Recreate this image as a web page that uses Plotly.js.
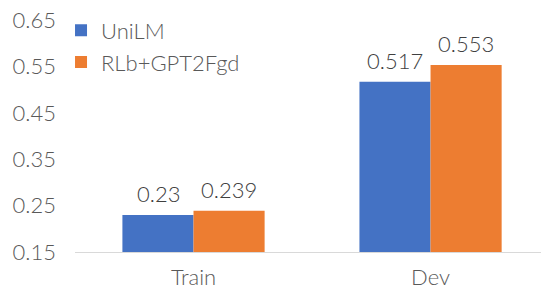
<!DOCTYPE html>
<html>
<head>
<meta charset="utf-8">
<script src="https://cdn.plot.ly/plotly-3.0.1.min.js"></script>
<style>html,body{margin:0;padding:0;background:#fff;}#chart{width:541px;height:290px;}</style>
</head>
<body>
<div id="chart"></div>
<script>
const categories = ["Train", "Dev"];
const seriesNames = ["UniLM", "RLb+GPT2Fgd"];
const unilmValues = [0.23, 0.517];
const rlbValues = [0.239, 0.553];
const unilmLabels = ["0.23", "0.517"];
const rlbLabels = ["0.239", "0.553"];
const yTicks = [0.15, 0.25, 0.35, 0.45, 0.55, 0.65];

const FONT = "Lato, 'Noto Sans', sans-serif";
const FS = 22;
const traces = [
  {type: "bar", name: seriesNames[0], x: categories, y: unilmValues,
   marker: {color: "#4472C4", line: {width: 0}}},
  {type: "bar", name: seriesNames[1], x: categories, y: rlbValues,
   marker: {color: "#ED7D31", line: {width: 0}}}
];
const annotations = [];
categories.forEach((c, i) => {
  annotations.push({x: c, y: unilmValues[i], text: unilmLabels[i], xref: "x", yref: "y",
    showarrow: false, yanchor: "bottom", xshift: -35.5, yshift: 6,
    font: {family: FONT, size: FS, color: "#404040", weight: 300}});
  annotations.push({x: c, y: rlbValues[i], text: rlbLabels[i], xref: "x", yref: "y",
    showarrow: false, yanchor: "bottom", xshift: 35.5, yshift: 6,
    font: {family: FONT, size: FS, color: "#404040", weight: 300}});
});
const layout = {
  width: 541, height: 290,
  margin: {l: 75, r: 0, t: 20, b: 38},
  paper_bgcolor: "#fff", plot_bgcolor: "#fff",
  font: {family: FONT, size: FS, color: "#595959", weight: 300},
  barmode: "group", bargap: 0.4, bargroupgap: 0,
  showlegend: true,
  annotations: annotations,
  legend: {x: -0.03, y: 1.045, xanchor: "left", yanchor: "top", bgcolor: "rgba(0,0,0,0)",
           font: {family: FONT, size: FS, color: "#595959", weight: 300}, itemwidth: 30, tracegroupgap: 0},
  xaxis: {type: "category", range: [-0.5, 1.466], showgrid: false, zeroline: false,
          showline: true, linecolor: "#D9D9D9", linewidth: 1, ticks: "", ticklabelstandoff: 6,
          tickfont: {family: FONT, size: FS, color: "#595959", weight: 300}},
  yaxis: {range: [0.15, 0.65], tickvals: yTicks, tickformat: ".2f", showgrid: false,
          zeroline: false, showline: false, ticks: "", ticklabelstandoff: 18,
          tickfont: {family: FONT, size: FS, color: "#595959", weight: 300}}
};
Plotly.newPlot("chart", traces, layout, {displayModeBar: false, staticPlot: true});
</script>
</body>
</html>
